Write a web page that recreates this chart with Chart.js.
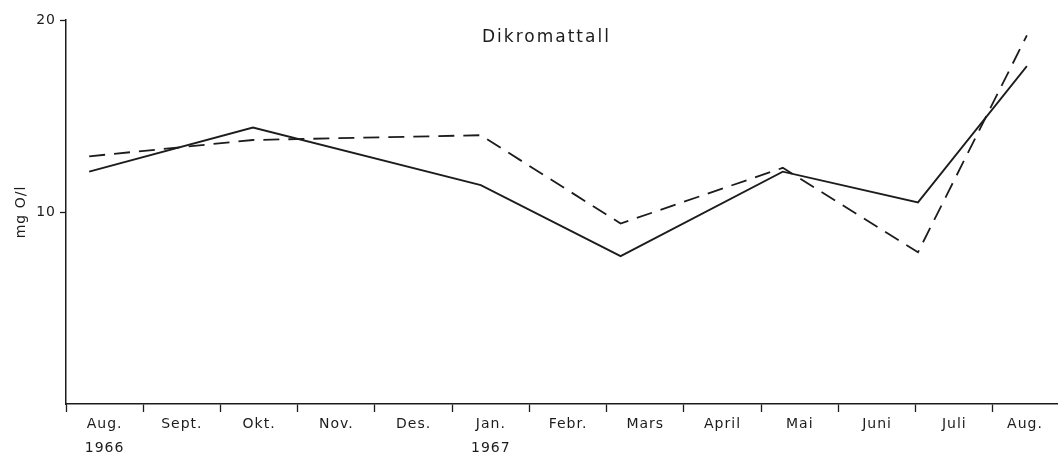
<!DOCTYPE html>
<html>
<head>
<meta charset="utf-8">
<script src="https://cdn.jsdelivr.net/npm/chart.js@4/dist/chart.umd.min.js"></script>
<style>
  html, body { margin: 0; padding: 0; background: #fff; }
  #wrap { width: 1061px; height: 456px; position: relative; }
</style>
</head>
<body>
<div id="wrap"><canvas id="chart"></canvas></div>
<script>
// month labels, Aug 1966 .. Aug 1967
const months = ['Aug.', 'Sept.', 'Okt.', 'Nov.', 'Des.', 'Jan.', 'Febr.', 'Mars', 'April', 'Mai', 'Juni', 'Juli', 'Aug.'];
const years = { 0: '1966', 5: '1967' };
// sampling dates as months after 1 Aug 1966
const sampleMonths = [0.30, 2.42, 5.37, 7.18, 9.28, 11.03, 12.44];
const solidValues = [12.1, 14.4, 11.4, 7.7, 12.1, 10.5, 17.6];
const dashedValues = [12.9, 13.75, 14.0, 9.4, 12.3, 7.9, 19.2];
const yTicks = [10, 20];

const ink = '#1c1c1c';
const fontFamily = '"DejaVu Sans", sans-serif';

function points(values) {
    return values.map((v, i) => ({ x: sampleMonths[i], y: v }));
}

const xMax = 12.83;

// the scan has slightly spaced-out lettering everywhere
const spacingPlugin = {
    id: 'spacing',
    beforeDraw(chart) {
        chart.ctx.letterSpacing = '1px';
    }
};

const titlePlugin = {
    id: 'plotTitle',
    afterDraw(chart) {
        const ctx = chart.ctx;
        const x = chart.scales.x.getPixelForValue(6.22);
        const y = chart.scales.y.getPixelForValue(19.1);
        ctx.save();
        ctx.font = '17px ' + fontFamily;
        ctx.letterSpacing = '2px';
        ctx.fillStyle = ink;
        ctx.textAlign = 'center';
        ctx.textBaseline = 'middle';
        ctx.fillText('Dikromattall', x, y);
        ctx.restore();
    }
};

new Chart(document.getElementById('chart'), {
    type: 'line',
    data: {
        datasets: [
            {
                data: points(solidValues),
                borderColor: ink,
                borderWidth: 1.8,
                pointRadius: 0,
                tension: 0,
                fill: false
            },
            {
                data: points(dashedValues),
                borderColor: ink,
                borderWidth: 1.8,
                borderDash: [16, 9],
                pointRadius: 0,
                tension: 0,
                fill: false
            }
        ]
    },
    options: {
        responsive: true,
        maintainAspectRatio: false,
        animation: false,
        layout: { padding: { top: 20, right: 4, left: 0, bottom: 0 } },
        plugins: {
            legend: { display: false },
            tooltip: { enabled: false }
        },
        scales: {
            x: {
                type: 'linear',
                min: 0,
                max: xMax,
                afterBuildTicks: function(scale) {
                    const t = [];
                    for (let i = 0; i < months.length; i++) {
                        t.push({ value: i });
                        t.push({ value: (i + Math.min(i + 1, xMax)) / 2 });
                    }
                    scale.ticks = t.filter(k => k.value <= xMax);
                },
                afterFit: function(scale) { scale.height = 52; },
                border: { display: true, color: ink, width: 1.5 },
                grid: {
                    drawOnChartArea: false,
                    tickLength: 8,
                    tickWidth: 1.3,
                    tickColor: function(c) {
                        return Number.isInteger(c.tick.value) ? ink : 'rgba(0,0,0,0)';
                    }
                },
                ticks: {
                    autoSkip: false,
                    maxRotation: 0,
                    padding: 0,
                    color: ink,
                    font: { family: fontFamily, size: 14, lineHeight: 1.72 },
                    callback: function(value) {
                        if (Number.isInteger(value)) return '';
                        const i = Math.floor(value);
                        return years[i] ? [months[i], years[i]] : months[i];
                    }
                }
            },
            y: {
                min: 0,
                max: 20,
                afterBuildTicks: function(scale) {
                    scale.ticks = yTicks.map(v => ({ value: v }));
                },
                afterFit: function(scale) { scale.width = 66; },
                border: { display: true, color: ink, width: 1.5 },
                grid: {
                    drawOnChartArea: false,
                    tickLength: 6,
                    tickWidth: 1.3,
                    tickColor: ink
                },
                ticks: {
                    padding: 4,
                    color: ink,
                    font: { family: fontFamily, size: 14 }
                },
                title: {
                    display: true,
                    text: 'mg O/l',
                    color: ink,
                    padding: { top: 13, bottom: 0 },
                    font: { family: fontFamily, size: 14 }
                }
            }
        }
    },
    plugins: [spacingPlugin, titlePlugin]
});
</script>
</body>
</html>
